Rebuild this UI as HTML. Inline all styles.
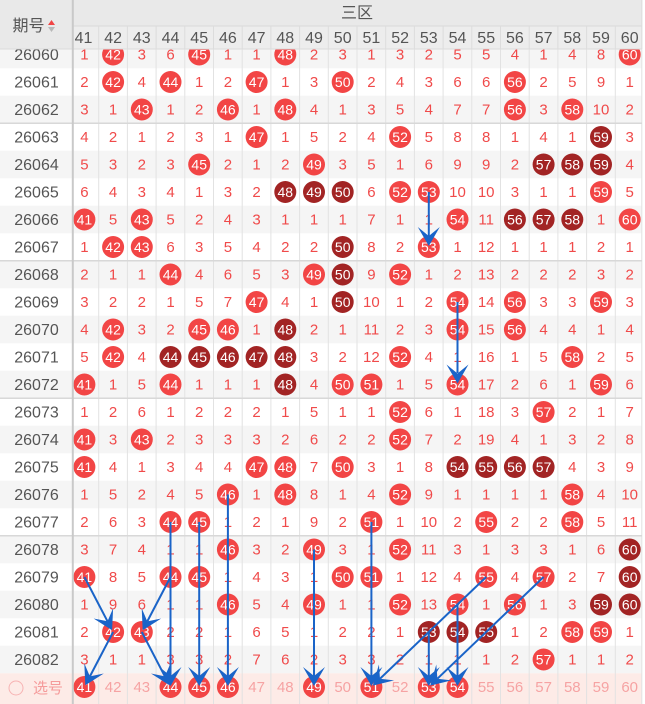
<!DOCTYPE html>
<html><head><meta charset="utf-8"><style>
html,body{margin:0;padding:0;background:#fff;}
svg{display:block;font-family:"Liberation Sans","Noto Sans CJK SC",sans-serif;}
.g text{fill:#f04a4a;font-size:15px;text-anchor:middle;}
.g text.w{fill:#fff;font-size:14px;}
circle.r{fill:#f24545;}
circle.d{fill:#a22424;}
.lab text{fill:#555;font-size:16px;text-anchor:middle;}
.hd text{fill:#555;font-size:16px;text-anchor:middle;}
.bt text{fill:#f6a3a3;font-size:15px;text-anchor:middle;}
.bt text.w{fill:#fff;font-size:14px;}
.ar line{stroke:#1a64c8;stroke-width:2;}
.ar polygon{fill:#1a64c8;}
</style></head><body>
<svg width="645" height="704" viewBox="0 0 645 704" xmlns="http://www.w3.org/2000/svg">
<rect x="0" y="0" width="645" height="704" fill="#fff"/>
<g fill="#f5f5f5">
<rect x="0" y="40.75" width="642" height="27.5"/>
<rect x="0" y="95.75" width="642" height="27.5"/>
<rect x="0" y="150.75" width="642" height="27.5"/>
<rect x="0" y="205.75" width="642" height="27.5"/>
<rect x="0" y="260.75" width="642" height="27.5"/>
<rect x="0" y="315.75" width="642" height="27.5"/>
<rect x="0" y="370.75" width="642" height="27.5"/>
<rect x="0" y="425.75" width="642" height="27.5"/>
<rect x="0" y="480.75" width="642" height="27.5"/>
<rect x="0" y="535.75" width="642" height="27.5"/>
<rect x="0" y="590.75" width="642" height="27.5"/>
<rect x="0" y="645.75" width="642" height="27.5"/>
</g>
<rect x="0" y="673.25" width="642" height="31" fill="#fdebe7"/>
<g stroke="#e2e2e2" stroke-width="1">
<line x1="98.7" y1="26" x2="98.7" y2="704"/>
<line x1="127.4" y1="26" x2="127.4" y2="704"/>
<line x1="156.1" y1="26" x2="156.1" y2="704"/>
<line x1="184.8" y1="26" x2="184.8" y2="704"/>
<line x1="213.5" y1="26" x2="213.5" y2="704"/>
<line x1="242.2" y1="26" x2="242.2" y2="704"/>
<line x1="270.9" y1="26" x2="270.9" y2="704"/>
<line x1="299.6" y1="26" x2="299.6" y2="704"/>
<line x1="328.3" y1="26" x2="328.3" y2="704"/>
<line x1="357" y1="26" x2="357" y2="704"/>
<line x1="385.7" y1="26" x2="385.7" y2="704"/>
<line x1="414.4" y1="26" x2="414.4" y2="704"/>
<line x1="443.1" y1="26" x2="443.1" y2="704"/>
<line x1="471.8" y1="26" x2="471.8" y2="704"/>
<line x1="500.5" y1="26" x2="500.5" y2="704"/>
<line x1="529.2" y1="26" x2="529.2" y2="704"/>
<line x1="557.9" y1="26" x2="557.9" y2="704"/>
<line x1="586.6" y1="26" x2="586.6" y2="704"/>
<line x1="615.3" y1="26" x2="615.3" y2="704"/>
<line x1="641.8" y1="0" x2="641.8" y2="704"/>
</g>
<g stroke="#d8d8d8" stroke-width="1.5">
<line x1="0" y1="123.25" x2="642" y2="123.25"/>
<line x1="0" y1="260.75" x2="642" y2="260.75"/>
<line x1="0" y1="398.25" x2="642" y2="398.25"/>
<line x1="0" y1="535.75" x2="642" y2="535.75"/>
</g>

<g class="g">
<g transform="translate(0,54.5)">
<text x="84.4" y="5">1</text><circle class="r" cx="113.1" r="11"/><text class="w" x="113.1" y="5">42</text><text x="141.8" y="5">3</text><text x="170.5" y="5">6</text><circle class="r" cx="199.2" r="11"/><text class="w" x="199.2" y="5">45</text><text x="227.9" y="5">1</text><text x="256.6" y="5">1</text><circle class="r" cx="285.3" r="11"/><text class="w" x="285.3" y="5">48</text><text x="314" y="5">2</text><text x="342.7" y="5">3</text><text x="371.4" y="5">1</text><text x="400.1" y="5">3</text><text x="428.8" y="5">2</text><text x="457.5" y="5">5</text><text x="486.2" y="5">5</text><text x="514.9" y="5">4</text><text x="543.6" y="5">1</text><text x="572.3" y="5">4</text><text x="601" y="5">8</text><circle class="r" cx="629.7" r="11"/><text class="w" x="629.7" y="5">60</text>
</g>
<g transform="translate(0,82)">
<text x="84.4" y="5">2</text><circle class="r" cx="113.1" r="11"/><text class="w" x="113.1" y="5">42</text><text x="141.8" y="5">4</text><circle class="r" cx="170.5" r="11"/><text class="w" x="170.5" y="5">44</text><text x="199.2" y="5">1</text><text x="227.9" y="5">2</text><circle class="r" cx="256.6" r="11"/><text class="w" x="256.6" y="5">47</text><text x="285.3" y="5">1</text><text x="314" y="5">3</text><circle class="r" cx="342.7" r="11"/><text class="w" x="342.7" y="5">50</text><text x="371.4" y="5">2</text><text x="400.1" y="5">4</text><text x="428.8" y="5">3</text><text x="457.5" y="5">6</text><text x="486.2" y="5">6</text><circle class="r" cx="514.9" r="11"/><text class="w" x="514.9" y="5">56</text><text x="543.6" y="5">2</text><text x="572.3" y="5">5</text><text x="601" y="5">9</text><text x="629.7" y="5">1</text>
</g>
<g transform="translate(0,109.5)">
<text x="84.4" y="5">3</text><text x="113.1" y="5">1</text><circle class="r" cx="141.8" r="11"/><text class="w" x="141.8" y="5">43</text><text x="170.5" y="5">1</text><text x="199.2" y="5">2</text><circle class="r" cx="227.9" r="11"/><text class="w" x="227.9" y="5">46</text><text x="256.6" y="5">1</text><circle class="r" cx="285.3" r="11"/><text class="w" x="285.3" y="5">48</text><text x="314" y="5">4</text><text x="342.7" y="5">1</text><text x="371.4" y="5">3</text><text x="400.1" y="5">5</text><text x="428.8" y="5">4</text><text x="457.5" y="5">7</text><text x="486.2" y="5">7</text><circle class="r" cx="514.9" r="11"/><text class="w" x="514.9" y="5">56</text><text x="543.6" y="5">3</text><circle class="r" cx="572.3" r="11"/><text class="w" x="572.3" y="5">58</text><text x="601" y="5">10</text><text x="629.7" y="5">2</text>
</g>
<g transform="translate(0,137)">
<text x="84.4" y="5">4</text><text x="113.1" y="5">2</text><text x="141.8" y="5">1</text><text x="170.5" y="5">2</text><text x="199.2" y="5">3</text><text x="227.9" y="5">1</text><circle class="r" cx="256.6" r="11"/><text class="w" x="256.6" y="5">47</text><text x="285.3" y="5">1</text><text x="314" y="5">5</text><text x="342.7" y="5">2</text><text x="371.4" y="5">4</text><circle class="r" cx="400.1" r="11"/><text class="w" x="400.1" y="5">52</text><text x="428.8" y="5">5</text><text x="457.5" y="5">8</text><text x="486.2" y="5">8</text><text x="514.9" y="5">1</text><text x="543.6" y="5">4</text><text x="572.3" y="5">1</text><circle class="d" cx="601" r="11"/><text class="w" x="601" y="5">59</text><text x="629.7" y="5">3</text>
</g>
<g transform="translate(0,164.5)">
<text x="84.4" y="5">5</text><text x="113.1" y="5">3</text><text x="141.8" y="5">2</text><text x="170.5" y="5">3</text><circle class="r" cx="199.2" r="11"/><text class="w" x="199.2" y="5">45</text><text x="227.9" y="5">2</text><text x="256.6" y="5">1</text><text x="285.3" y="5">2</text><circle class="r" cx="314" r="11"/><text class="w" x="314" y="5">49</text><text x="342.7" y="5">3</text><text x="371.4" y="5">5</text><text x="400.1" y="5">1</text><text x="428.8" y="5">6</text><text x="457.5" y="5">9</text><text x="486.2" y="5">9</text><text x="514.9" y="5">2</text><circle class="d" cx="543.6" r="11"/><text class="w" x="543.6" y="5">57</text><circle class="d" cx="572.3" r="11"/><text class="w" x="572.3" y="5">58</text><circle class="d" cx="601" r="11"/><text class="w" x="601" y="5">59</text><text x="629.7" y="5">4</text>
</g>
<g transform="translate(0,192)">
<text x="84.4" y="5">6</text><text x="113.1" y="5">4</text><text x="141.8" y="5">3</text><text x="170.5" y="5">4</text><text x="199.2" y="5">1</text><text x="227.9" y="5">3</text><text x="256.6" y="5">2</text><circle class="d" cx="285.3" r="11"/><text class="w" x="285.3" y="5">48</text><circle class="d" cx="314" r="11"/><text class="w" x="314" y="5">49</text><circle class="d" cx="342.7" r="11"/><text class="w" x="342.7" y="5">50</text><text x="371.4" y="5">6</text><circle class="r" cx="400.1" r="11"/><text class="w" x="400.1" y="5">52</text><circle class="r" cx="428.8" r="11"/><text class="w" x="428.8" y="5">53</text><text x="457.5" y="5">10</text><text x="486.2" y="5">10</text><text x="514.9" y="5">3</text><text x="543.6" y="5">1</text><text x="572.3" y="5">1</text><circle class="r" cx="601" r="11"/><text class="w" x="601" y="5">59</text><text x="629.7" y="5">5</text>
</g>
<g transform="translate(0,219.5)">
<circle class="r" cx="84.4" r="11"/><text class="w" x="84.4" y="5">41</text><text x="113.1" y="5">5</text><circle class="r" cx="141.8" r="11"/><text class="w" x="141.8" y="5">43</text><text x="170.5" y="5">5</text><text x="199.2" y="5">2</text><text x="227.9" y="5">4</text><text x="256.6" y="5">3</text><text x="285.3" y="5">1</text><text x="314" y="5">1</text><text x="342.7" y="5">1</text><text x="371.4" y="5">7</text><text x="400.1" y="5">1</text><text x="428.8" y="5">1</text><circle class="r" cx="457.5" r="11"/><text class="w" x="457.5" y="5">54</text><text x="486.2" y="5">11</text><circle class="d" cx="514.9" r="11"/><text class="w" x="514.9" y="5">56</text><circle class="d" cx="543.6" r="11"/><text class="w" x="543.6" y="5">57</text><circle class="d" cx="572.3" r="11"/><text class="w" x="572.3" y="5">58</text><text x="601" y="5">1</text><circle class="r" cx="629.7" r="11"/><text class="w" x="629.7" y="5">60</text>
</g>
<g transform="translate(0,247)">
<text x="84.4" y="5">1</text><circle class="r" cx="113.1" r="11"/><text class="w" x="113.1" y="5">42</text><circle class="r" cx="141.8" r="11"/><text class="w" x="141.8" y="5">43</text><text x="170.5" y="5">6</text><text x="199.2" y="5">3</text><text x="227.9" y="5">5</text><text x="256.6" y="5">4</text><text x="285.3" y="5">2</text><text x="314" y="5">2</text><circle class="d" cx="342.7" r="11"/><text class="w" x="342.7" y="5">50</text><text x="371.4" y="5">8</text><text x="400.1" y="5">2</text><circle class="r" cx="428.8" r="11"/><text class="w" x="428.8" y="5">53</text><text x="457.5" y="5">1</text><text x="486.2" y="5">12</text><text x="514.9" y="5">1</text><text x="543.6" y="5">1</text><text x="572.3" y="5">1</text><text x="601" y="5">2</text><text x="629.7" y="5">1</text>
</g>
<g transform="translate(0,274.5)">
<text x="84.4" y="5">2</text><text x="113.1" y="5">1</text><text x="141.8" y="5">1</text><circle class="r" cx="170.5" r="11"/><text class="w" x="170.5" y="5">44</text><text x="199.2" y="5">4</text><text x="227.9" y="5">6</text><text x="256.6" y="5">5</text><text x="285.3" y="5">3</text><circle class="r" cx="314" r="11"/><text class="w" x="314" y="5">49</text><circle class="d" cx="342.7" r="11"/><text class="w" x="342.7" y="5">50</text><text x="371.4" y="5">9</text><circle class="r" cx="400.1" r="11"/><text class="w" x="400.1" y="5">52</text><text x="428.8" y="5">1</text><text x="457.5" y="5">2</text><text x="486.2" y="5">13</text><text x="514.9" y="5">2</text><text x="543.6" y="5">2</text><text x="572.3" y="5">2</text><text x="601" y="5">3</text><text x="629.7" y="5">2</text>
</g>
<g transform="translate(0,302)">
<text x="84.4" y="5">3</text><text x="113.1" y="5">2</text><text x="141.8" y="5">2</text><text x="170.5" y="5">1</text><text x="199.2" y="5">5</text><text x="227.9" y="5">7</text><circle class="r" cx="256.6" r="11"/><text class="w" x="256.6" y="5">47</text><text x="285.3" y="5">4</text><text x="314" y="5">1</text><circle class="d" cx="342.7" r="11"/><text class="w" x="342.7" y="5">50</text><text x="371.4" y="5">10</text><text x="400.1" y="5">1</text><text x="428.8" y="5">2</text><circle class="r" cx="457.5" r="11"/><text class="w" x="457.5" y="5">54</text><text x="486.2" y="5">14</text><circle class="r" cx="514.9" r="11"/><text class="w" x="514.9" y="5">56</text><text x="543.6" y="5">3</text><text x="572.3" y="5">3</text><circle class="r" cx="601" r="11"/><text class="w" x="601" y="5">59</text><text x="629.7" y="5">3</text>
</g>
<g transform="translate(0,329.5)">
<text x="84.4" y="5">4</text><circle class="r" cx="113.1" r="11"/><text class="w" x="113.1" y="5">42</text><text x="141.8" y="5">3</text><text x="170.5" y="5">2</text><circle class="r" cx="199.2" r="11"/><text class="w" x="199.2" y="5">45</text><circle class="r" cx="227.9" r="11"/><text class="w" x="227.9" y="5">46</text><text x="256.6" y="5">1</text><circle class="d" cx="285.3" r="11"/><text class="w" x="285.3" y="5">48</text><text x="314" y="5">2</text><text x="342.7" y="5">1</text><text x="371.4" y="5">11</text><text x="400.1" y="5">2</text><text x="428.8" y="5">3</text><circle class="r" cx="457.5" r="11"/><text class="w" x="457.5" y="5">54</text><text x="486.2" y="5">15</text><circle class="r" cx="514.9" r="11"/><text class="w" x="514.9" y="5">56</text><text x="543.6" y="5">4</text><text x="572.3" y="5">4</text><text x="601" y="5">1</text><text x="629.7" y="5">4</text>
</g>
<g transform="translate(0,357)">
<text x="84.4" y="5">5</text><circle class="r" cx="113.1" r="11"/><text class="w" x="113.1" y="5">42</text><text x="141.8" y="5">4</text><circle class="d" cx="170.5" r="11"/><text class="w" x="170.5" y="5">44</text><circle class="d" cx="199.2" r="11"/><text class="w" x="199.2" y="5">45</text><circle class="d" cx="227.9" r="11"/><text class="w" x="227.9" y="5">46</text><circle class="d" cx="256.6" r="11"/><text class="w" x="256.6" y="5">47</text><circle class="d" cx="285.3" r="11"/><text class="w" x="285.3" y="5">48</text><text x="314" y="5">3</text><text x="342.7" y="5">2</text><text x="371.4" y="5">12</text><circle class="r" cx="400.1" r="11"/><text class="w" x="400.1" y="5">52</text><text x="428.8" y="5">4</text><text x="457.5" y="5">1</text><text x="486.2" y="5">16</text><text x="514.9" y="5">1</text><text x="543.6" y="5">5</text><circle class="r" cx="572.3" r="11"/><text class="w" x="572.3" y="5">58</text><text x="601" y="5">2</text><text x="629.7" y="5">5</text>
</g>
<g transform="translate(0,384.5)">
<circle class="r" cx="84.4" r="11"/><text class="w" x="84.4" y="5">41</text><text x="113.1" y="5">1</text><text x="141.8" y="5">5</text><circle class="r" cx="170.5" r="11"/><text class="w" x="170.5" y="5">44</text><text x="199.2" y="5">1</text><text x="227.9" y="5">1</text><text x="256.6" y="5">1</text><circle class="d" cx="285.3" r="11"/><text class="w" x="285.3" y="5">48</text><text x="314" y="5">4</text><circle class="r" cx="342.7" r="11"/><text class="w" x="342.7" y="5">50</text><circle class="r" cx="371.4" r="11"/><text class="w" x="371.4" y="5">51</text><text x="400.1" y="5">1</text><text x="428.8" y="5">5</text><circle class="r" cx="457.5" r="11"/><text class="w" x="457.5" y="5">54</text><text x="486.2" y="5">17</text><text x="514.9" y="5">2</text><text x="543.6" y="5">6</text><text x="572.3" y="5">1</text><circle class="r" cx="601" r="11"/><text class="w" x="601" y="5">59</text><text x="629.7" y="5">6</text>
</g>
<g transform="translate(0,412)">
<text x="84.4" y="5">1</text><text x="113.1" y="5">2</text><text x="141.8" y="5">6</text><text x="170.5" y="5">1</text><text x="199.2" y="5">2</text><text x="227.9" y="5">2</text><text x="256.6" y="5">2</text><text x="285.3" y="5">1</text><text x="314" y="5">5</text><text x="342.7" y="5">1</text><text x="371.4" y="5">1</text><circle class="r" cx="400.1" r="11"/><text class="w" x="400.1" y="5">52</text><text x="428.8" y="5">6</text><text x="457.5" y="5">1</text><text x="486.2" y="5">18</text><text x="514.9" y="5">3</text><circle class="r" cx="543.6" r="11"/><text class="w" x="543.6" y="5">57</text><text x="572.3" y="5">2</text><text x="601" y="5">1</text><text x="629.7" y="5">7</text>
</g>
<g transform="translate(0,439.5)">
<circle class="r" cx="84.4" r="11"/><text class="w" x="84.4" y="5">41</text><text x="113.1" y="5">3</text><circle class="r" cx="141.8" r="11"/><text class="w" x="141.8" y="5">43</text><text x="170.5" y="5">2</text><text x="199.2" y="5">3</text><text x="227.9" y="5">3</text><text x="256.6" y="5">3</text><text x="285.3" y="5">2</text><text x="314" y="5">6</text><text x="342.7" y="5">2</text><text x="371.4" y="5">2</text><circle class="r" cx="400.1" r="11"/><text class="w" x="400.1" y="5">52</text><text x="428.8" y="5">7</text><text x="457.5" y="5">2</text><text x="486.2" y="5">19</text><text x="514.9" y="5">4</text><text x="543.6" y="5">1</text><text x="572.3" y="5">3</text><text x="601" y="5">2</text><text x="629.7" y="5">8</text>
</g>
<g transform="translate(0,467)">
<circle class="r" cx="84.4" r="11"/><text class="w" x="84.4" y="5">41</text><text x="113.1" y="5">4</text><text x="141.8" y="5">1</text><text x="170.5" y="5">3</text><text x="199.2" y="5">4</text><text x="227.9" y="5">4</text><circle class="r" cx="256.6" r="11"/><text class="w" x="256.6" y="5">47</text><circle class="r" cx="285.3" r="11"/><text class="w" x="285.3" y="5">48</text><text x="314" y="5">7</text><circle class="r" cx="342.7" r="11"/><text class="w" x="342.7" y="5">50</text><text x="371.4" y="5">3</text><text x="400.1" y="5">1</text><text x="428.8" y="5">8</text><circle class="d" cx="457.5" r="11"/><text class="w" x="457.5" y="5">54</text><circle class="d" cx="486.2" r="11"/><text class="w" x="486.2" y="5">55</text><circle class="d" cx="514.9" r="11"/><text class="w" x="514.9" y="5">56</text><circle class="d" cx="543.6" r="11"/><text class="w" x="543.6" y="5">57</text><text x="572.3" y="5">4</text><text x="601" y="5">3</text><text x="629.7" y="5">9</text>
</g>
<g transform="translate(0,494.5)">
<text x="84.4" y="5">1</text><text x="113.1" y="5">5</text><text x="141.8" y="5">2</text><text x="170.5" y="5">4</text><text x="199.2" y="5">5</text><circle class="r" cx="227.9" r="11"/><text class="w" x="227.9" y="5">46</text><text x="256.6" y="5">1</text><circle class="r" cx="285.3" r="11"/><text class="w" x="285.3" y="5">48</text><text x="314" y="5">8</text><text x="342.7" y="5">1</text><text x="371.4" y="5">4</text><circle class="r" cx="400.1" r="11"/><text class="w" x="400.1" y="5">52</text><text x="428.8" y="5">9</text><text x="457.5" y="5">1</text><text x="486.2" y="5">1</text><text x="514.9" y="5">1</text><text x="543.6" y="5">1</text><circle class="r" cx="572.3" r="11"/><text class="w" x="572.3" y="5">58</text><text x="601" y="5">4</text><text x="629.7" y="5">10</text>
</g>
<g transform="translate(0,522)">
<text x="84.4" y="5">2</text><text x="113.1" y="5">6</text><text x="141.8" y="5">3</text><circle class="r" cx="170.5" r="11"/><text class="w" x="170.5" y="5">44</text><circle class="r" cx="199.2" r="11"/><text class="w" x="199.2" y="5">45</text><text x="227.9" y="5">1</text><text x="256.6" y="5">2</text><text x="285.3" y="5">1</text><text x="314" y="5">9</text><text x="342.7" y="5">2</text><circle class="r" cx="371.4" r="11"/><text class="w" x="371.4" y="5">51</text><text x="400.1" y="5">1</text><text x="428.8" y="5">10</text><text x="457.5" y="5">2</text><circle class="r" cx="486.2" r="11"/><text class="w" x="486.2" y="5">55</text><text x="514.9" y="5">2</text><text x="543.6" y="5">2</text><circle class="r" cx="572.3" r="11"/><text class="w" x="572.3" y="5">58</text><text x="601" y="5">5</text><text x="629.7" y="5">11</text>
</g>
<g transform="translate(0,549.5)">
<text x="84.4" y="5">3</text><text x="113.1" y="5">7</text><text x="141.8" y="5">4</text><text x="170.5" y="5">1</text><text x="199.2" y="5">1</text><circle class="r" cx="227.9" r="11"/><text class="w" x="227.9" y="5">46</text><text x="256.6" y="5">3</text><text x="285.3" y="5">2</text><circle class="r" cx="314" r="11"/><text class="w" x="314" y="5">49</text><text x="342.7" y="5">3</text><text x="371.4" y="5">1</text><circle class="r" cx="400.1" r="11"/><text class="w" x="400.1" y="5">52</text><text x="428.8" y="5">11</text><text x="457.5" y="5">3</text><text x="486.2" y="5">1</text><text x="514.9" y="5">3</text><text x="543.6" y="5">3</text><text x="572.3" y="5">1</text><text x="601" y="5">6</text><circle class="d" cx="629.7" r="11"/><text class="w" x="629.7" y="5">60</text>
</g>
<g transform="translate(0,577)">
<circle class="r" cx="84.4" r="11"/><text class="w" x="84.4" y="5">41</text><text x="113.1" y="5">8</text><text x="141.8" y="5">5</text><circle class="r" cx="170.5" r="11"/><text class="w" x="170.5" y="5">44</text><circle class="r" cx="199.2" r="11"/><text class="w" x="199.2" y="5">45</text><text x="227.9" y="5">1</text><text x="256.6" y="5">4</text><text x="285.3" y="5">3</text><text x="314" y="5">1</text><circle class="r" cx="342.7" r="11"/><text class="w" x="342.7" y="5">50</text><circle class="r" cx="371.4" r="11"/><text class="w" x="371.4" y="5">51</text><text x="400.1" y="5">1</text><text x="428.8" y="5">12</text><text x="457.5" y="5">4</text><circle class="r" cx="486.2" r="11"/><text class="w" x="486.2" y="5">55</text><text x="514.9" y="5">4</text><circle class="r" cx="543.6" r="11"/><text class="w" x="543.6" y="5">57</text><text x="572.3" y="5">2</text><text x="601" y="5">7</text><circle class="d" cx="629.7" r="11"/><text class="w" x="629.7" y="5">60</text>
</g>
<g transform="translate(0,604.5)">
<text x="84.4" y="5">1</text><text x="113.1" y="5">9</text><text x="141.8" y="5">6</text><text x="170.5" y="5">1</text><text x="199.2" y="5">1</text><circle class="r" cx="227.9" r="11"/><text class="w" x="227.9" y="5">46</text><text x="256.6" y="5">5</text><text x="285.3" y="5">4</text><circle class="r" cx="314" r="11"/><text class="w" x="314" y="5">49</text><text x="342.7" y="5">1</text><text x="371.4" y="5">1</text><circle class="r" cx="400.1" r="11"/><text class="w" x="400.1" y="5">52</text><text x="428.8" y="5">13</text><circle class="r" cx="457.5" r="11"/><text class="w" x="457.5" y="5">54</text><text x="486.2" y="5">1</text><circle class="r" cx="514.9" r="11"/><text class="w" x="514.9" y="5">56</text><text x="543.6" y="5">1</text><text x="572.3" y="5">3</text><circle class="d" cx="601" r="11"/><text class="w" x="601" y="5">59</text><circle class="d" cx="629.7" r="11"/><text class="w" x="629.7" y="5">60</text>
</g>
<g transform="translate(0,632)">
<text x="84.4" y="5">2</text><circle class="r" cx="113.1" r="11"/><text class="w" x="113.1" y="5">42</text><circle class="r" cx="141.8" r="11"/><text class="w" x="141.8" y="5">43</text><text x="170.5" y="5">2</text><text x="199.2" y="5">2</text><text x="227.9" y="5">1</text><text x="256.6" y="5">6</text><text x="285.3" y="5">5</text><text x="314" y="5">1</text><text x="342.7" y="5">2</text><text x="371.4" y="5">2</text><text x="400.1" y="5">1</text><circle class="d" cx="428.8" r="11"/><text class="w" x="428.8" y="5">53</text><circle class="d" cx="457.5" r="11"/><text class="w" x="457.5" y="5">54</text><circle class="d" cx="486.2" r="11"/><text class="w" x="486.2" y="5">55</text><text x="514.9" y="5">1</text><text x="543.6" y="5">2</text><circle class="r" cx="572.3" r="11"/><text class="w" x="572.3" y="5">58</text><circle class="r" cx="601" r="11"/><text class="w" x="601" y="5">59</text><text x="629.7" y="5">1</text>
</g>
<g transform="translate(0,659.5)">
<text x="84.4" y="5">3</text><text x="113.1" y="5">1</text><text x="141.8" y="5">1</text><text x="170.5" y="5">3</text><text x="199.2" y="5">3</text><text x="227.9" y="5">2</text><text x="256.6" y="5">7</text><text x="285.3" y="5">6</text><text x="314" y="5">2</text><text x="342.7" y="5">3</text><text x="371.4" y="5">3</text><text x="400.1" y="5">2</text><text x="428.8" y="5">1</text><text x="457.5" y="5">1</text><text x="486.2" y="5">1</text><text x="514.9" y="5">2</text><circle class="r" cx="543.6" r="11"/><text class="w" x="543.6" y="5">57</text><text x="572.3" y="5">1</text><text x="601" y="5">1</text><text x="629.7" y="5">2</text>
</g>
</g>
<g class="bt" transform="translate(0,687)">
<circle class="r" cx="84.4" r="11"/><text class="w" x="84.4" y="5">41</text><text x="113.1" y="5">42</text><text x="141.8" y="5">43</text><circle class="r" cx="170.5" r="11"/><text class="w" x="170.5" y="5">44</text><circle class="r" cx="199.2" r="11"/><text class="w" x="199.2" y="5">45</text><circle class="r" cx="227.9" r="11"/><text class="w" x="227.9" y="5">46</text><text x="256.6" y="5">47</text><text x="285.3" y="5">48</text><circle class="r" cx="314" r="11"/><text class="w" x="314" y="5">49</text><text x="342.7" y="5">50</text><circle class="r" cx="371.4" r="11"/><text class="w" x="371.4" y="5">51</text><text x="400.1" y="5">52</text><circle class="r" cx="428.8" r="11"/><text class="w" x="428.8" y="5">53</text><circle class="r" cx="457.5" r="11"/><text class="w" x="457.5" y="5">54</text><text x="486.2" y="5">55</text><text x="514.9" y="5">56</text><text x="543.6" y="5">57</text><text x="572.3" y="5">58</text><text x="601" y="5">59</text><text x="629.7" y="5">60</text>
</g>

<g class="ar">
<line x1="428.8" y1="192" x2="428.8" y2="236"/>
<polygon points="428.8,246 417.8,227 428.8,236 439.8,227"/>
<line x1="457.5" y1="302" x2="457.5" y2="373"/>
<polygon points="457.5,383.5 446.5,364.5 457.5,373.5 468.5,364.5"/>
<line x1="84.4" y1="577" x2="107.5" y2="621.3"/>
<polygon points="112.1,630.2 93.6,618.5 107.5,621.3 113.1,608.3"/>
<line x1="113.1" y1="632" x2="89.9" y2="676.4"/>
<polygon points="85.3,685.2 103.8,673.5 89.9,676.4 84.3,663.3"/>
<line x1="170.5" y1="577" x2="147.3" y2="621.4"/>
<polygon points="142.7,630.2 161.2,618.5 147.3,621.4 141.7,608.3"/>
<line x1="141.8" y1="632" x2="164.9" y2="676.4"/>
<polygon points="169.5,685.2 151,673.5 164.9,676.4 170.5,663.3"/>
<line x1="170.5" y1="522" x2="170.5" y2="676"/>
<polygon points="170.5,686 159.5,667 170.5,676 181.5,667"/>
<line x1="199.2" y1="522" x2="199.2" y2="676"/>
<polygon points="199.2,686 188.2,667 199.2,676 210.2,667"/>
<line x1="227.9" y1="494.5" x2="227.9" y2="676"/>
<polygon points="227.9,686 216.9,667 227.9,676 238.9,667"/>
<line x1="314" y1="549.5" x2="314" y2="676"/>
<polygon points="314,686 303,667 314,676 325,667"/>
<line x1="371.4" y1="522" x2="371.4" y2="676"/>
<polygon points="371.4,686 360.4,667 371.4,676 382.4,667"/>
<line x1="486.2" y1="577" x2="380" y2="678.7"/>
<polygon points="372.8,685.6 394.1,680.4 380,678.7 378.9,664.5"/>
<line x1="543.6" y1="577" x2="437.4" y2="678.7"/>
<polygon points="430.2,685.6 451.5,680.4 437.4,678.7 436.3,664.5"/>
<line x1="428.8" y1="632" x2="428.8" y2="676"/>
<polygon points="428.8,686 417.8,667 428.8,676 439.8,667"/>
<line x1="457.5" y1="604.5" x2="457.5" y2="676"/>
<polygon points="457.5,686 446.5,667 457.5,676 468.5,667"/>
</g>

<g class="lab">
<text x="36.5" y="60">26060</text>
<text x="36.5" y="87.5">26061</text>
<text x="36.5" y="115">26062</text>
<text x="36.5" y="142.5">26063</text>
<text x="36.5" y="170">26064</text>
<text x="36.5" y="197.5">26065</text>
<text x="36.5" y="225">26066</text>
<text x="36.5" y="252.5">26067</text>
<text x="36.5" y="280">26068</text>
<text x="36.5" y="307.5">26069</text>
<text x="36.5" y="335">26070</text>
<text x="36.5" y="362.5">26071</text>
<text x="36.5" y="390">26072</text>
<text x="36.5" y="417.5">26073</text>
<text x="36.5" y="445">26074</text>
<text x="36.5" y="472.5">26075</text>
<text x="36.5" y="500">26076</text>
<text x="36.5" y="527.5">26077</text>
<text x="36.5" y="555">26078</text>
<text x="36.5" y="582.5">26079</text>
<text x="36.5" y="610">26080</text>
<text x="36.5" y="637.5">26081</text>
<text x="36.5" y="665">26082</text>
</g>
<circle cx="16" cy="688" r="7" fill="none" stroke="#f7b3b3" stroke-width="1"/>
<text x="48" y="693" fill="#f59a9a" font-size="15" text-anchor="middle">选号</text>

<rect x="0" y="0" width="642" height="49" fill="#e9e9e9"/>
<rect x="73" y="26" width="569" height="23" fill="#ededed"/>
<line x1="73" y1="26" x2="642" y2="26" stroke="#d9d9d9" stroke-width="1"/>
<line x1="0" y1="49" x2="642" y2="49" stroke="#dcdcdc" stroke-width="1"/>
<g stroke="#dcdcdc" stroke-width="1">
<line x1="98.7" y1="26" x2="98.7" y2="49"/>
<line x1="127.4" y1="26" x2="127.4" y2="49"/>
<line x1="156.1" y1="26" x2="156.1" y2="49"/>
<line x1="184.8" y1="26" x2="184.8" y2="49"/>
<line x1="213.5" y1="26" x2="213.5" y2="49"/>
<line x1="242.2" y1="26" x2="242.2" y2="49"/>
<line x1="270.9" y1="26" x2="270.9" y2="49"/>
<line x1="299.6" y1="26" x2="299.6" y2="49"/>
<line x1="328.3" y1="26" x2="328.3" y2="49"/>
<line x1="357" y1="26" x2="357" y2="49"/>
<line x1="385.7" y1="26" x2="385.7" y2="49"/>
<line x1="414.4" y1="26" x2="414.4" y2="49"/>
<line x1="443.1" y1="26" x2="443.1" y2="49"/>
<line x1="471.8" y1="26" x2="471.8" y2="49"/>
<line x1="500.5" y1="26" x2="500.5" y2="49"/>
<line x1="529.2" y1="26" x2="529.2" y2="49"/>
<line x1="557.9" y1="26" x2="557.9" y2="49"/>
<line x1="586.6" y1="26" x2="586.6" y2="49"/>
<line x1="615.3" y1="26" x2="615.3" y2="49"/>
<line x1="641.8" y1="0" x2="641.8" y2="49"/>
</g>
<g class="hd">
<text x="357" y="18" font-size="14">三区</text>
<text x="83.5" y="43">41</text>
<text x="113.1" y="43">42</text>
<text x="141.8" y="43">43</text>
<text x="170.5" y="43">44</text>
<text x="199.2" y="43">45</text>
<text x="227.9" y="43">46</text>
<text x="256.6" y="43">47</text>
<text x="285.3" y="43">48</text>
<text x="314" y="43">49</text>
<text x="342.7" y="43">50</text>
<text x="371.4" y="43">51</text>
<text x="400.1" y="43">52</text>
<text x="428.8" y="43">53</text>
<text x="457.5" y="43">54</text>
<text x="486.2" y="43">55</text>
<text x="514.9" y="43">56</text>
<text x="543.6" y="43">57</text>
<text x="572.3" y="43">58</text>
<text x="601" y="43">59</text>
<text x="629.7" y="43">60</text>
<text x="28.5" y="31" font-size="15">期号</text>
</g>
<polygon points="48,25 51.5,20 55,25" fill="#f04545"/>
<polygon points="48,27 51.5,32 55,27" fill="#b8b8b8"/>
<rect x="71.8" y="0" width="2" height="704" fill="#c9c9c9"/>
</svg>
</body></html>
